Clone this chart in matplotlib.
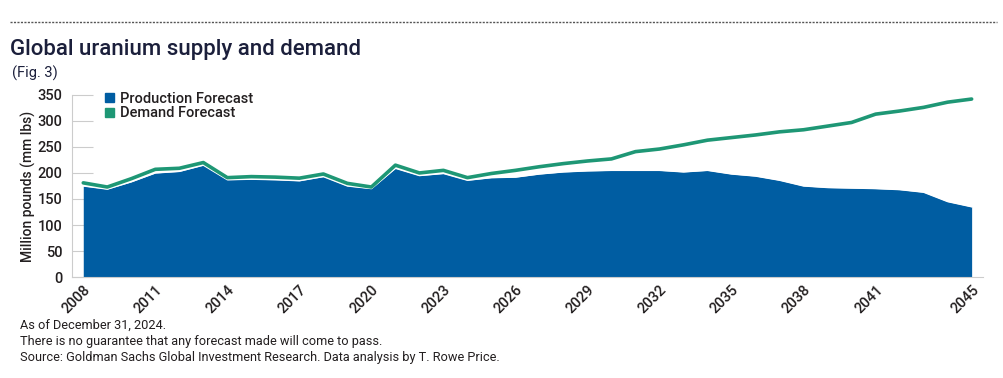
import matplotlib
matplotlib.use("Agg")
import matplotlib.pyplot as plt
from matplotlib.lines import Line2D
from matplotlib.patches import Patch

years = list(range(2008, 2046))
production = [175, 169, 183, 200, 203, 215, 187, 188, 187, 185, 193, 175, 170, 209, 195, 199,
              186, 191, 192, 198, 202, 204, 205, 205, 205, 202, 205, 198, 194, 186, 175, 172,
              171, 170, 168, 163, 145, 135]
demand = [181, 173, 189, 207, 209, 220, 191, 193, 192, 190, 198, 180, 173, 215, 200, 205,
          191, 199, 205, 212, 218, 223, 227, 241, 246, 254, 263, 268, 273, 279, 283, 290,
          297, 313, 319, 326, 336, 342]
xtick_years = [2008, 2011, 2014, 2017, 2020, 2023, 2026, 2029, 2032, 2035, 2038, 2041, 2045]
yticks = [0, 50, 100, 150, 200, 250, 300, 350]

blue = "#005DA2"
green = "#1E9775"
dark = "#231F20"
navy = "#1B1F3B"
plt.rcParams["font.family"] = ["Roboto", "DejaVu Sans"]

fig = plt.figure(figsize=(10.04, 3.78), dpi=100)
ax = fig.add_axes([0.0717, 0.267, 0.9073, 0.482])

ax.fill_between(years, production, 0, color=blue, lw=0, zorder=2)
ax.plot(years, production, color="white", lw=1.0, zorder=3)
ax.plot(years, demand, color=green, lw=2.6, zorder=4, solid_capstyle="round")

ax.set_xlim(2007.53, 2045.47)
ax.set_ylim(0, 350)
ax.set_yticks(yticks)
ax.set_xticks(xtick_years)
ax.set_xticklabels([str(y) for y in xtick_years], rotation=45, ha="right",
                   rotation_mode="anchor", fontsize=10.5, color=dark, fontweight="medium")
ax.set_yticklabels([str(v) for v in yticks], fontsize=10.5, color=dark, fontweight="medium")
ax.tick_params(axis="y", direction="in", length=15, color="#cccccc", pad=7)
ax.tick_params(axis="x", length=0, pad=4)
for s in ["top", "right"]:
    ax.spines[s].set_visible(False)
ax.spines["left"].set_color("#cccccc")
ax.spines["bottom"].set_color("#cccccc")
ax.spines["left"].set_zorder(1)
ax.set_ylabel("Million pounds (mm lbs)", fontsize=10, color=dark, fontweight="medium", labelpad=1)

handles = [Patch(color=blue, label="Production Forecast"), Patch(color=green, label="Demand Forecast")]
fig.legend(handles=handles, loc="upper left", bbox_to_anchor=(0.092, 0.792), frameon=False,
           handlelength=0.6, handleheight=0.6, handletextpad=0.4, labelspacing=0.05,
           prop={"size": 10.5, "weight": "medium"}, labelcolor=dark)

fig.add_artist(Line2D([0.01, 0.993], [1 - 22 / 378, 1 - 22 / 378], color="#555555",
                      lw=1, ls=(0, (1.5, 1.0))))
fig.text(0.01, 1 - 49 / 378, "Global uranium supply and demand", fontsize=16,
         fontweight="medium", color=navy, va="center")
fig.text(0.012, 1 - 73 / 378, "(Fig. 3)", fontsize=10.5, color=navy, va="center")

footer = ["As of December 31, 2024.",
          "There is no guarantee that any forecast made will come to pass.",
          "Source: Goldman Sachs Global Investment Research. Data analysis by T. Rowe Price."]
for i, line in enumerate(footer):
    fig.text(0.02, 1 - (325 + 16 * i) / 378, line, fontsize=9.2, color=dark, va="center")

fig.savefig("out.png", dpi=100)
